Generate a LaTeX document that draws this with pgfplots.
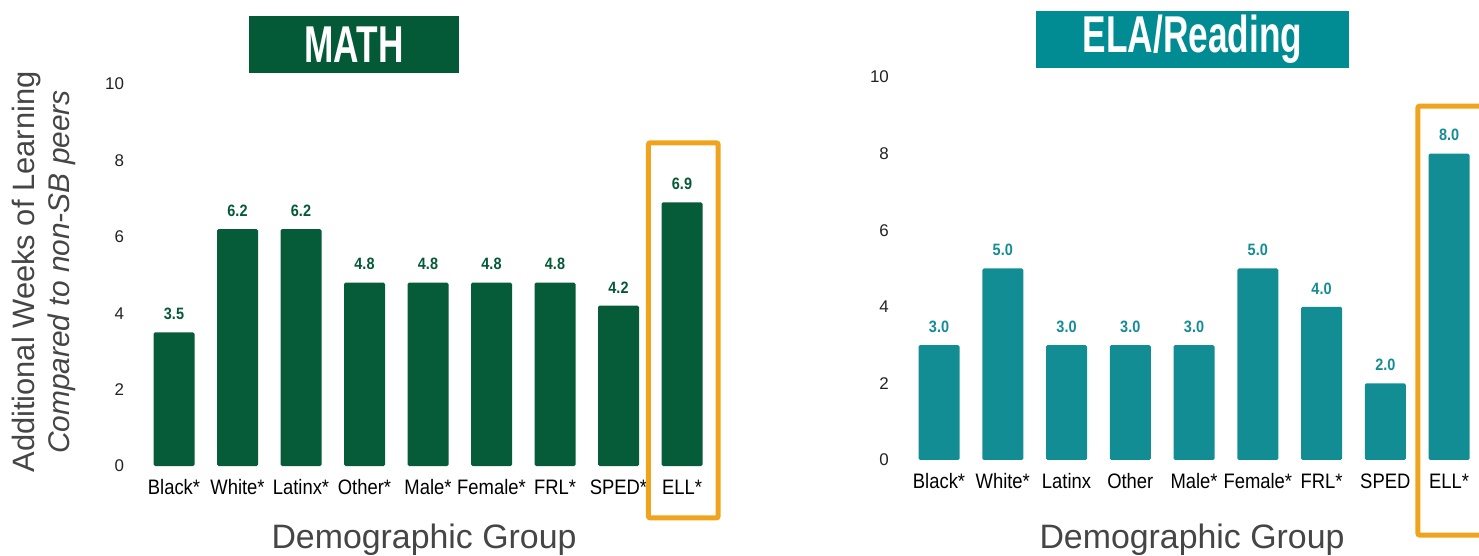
\documentclass[border=0pt]{standalone}
\usepackage{pgfplots}
\pgfplotsset{compat=1.18}
\usepackage{fontspec}
\setmainfont{Liberation Sans}
\newfontfamily\condfont[FakeStretch=0.88]{Liberation Sans}
\newfontfamily\titlefont[FakeStretch=0.68]{Liberation Sans}
\definecolor{mathgreen}{HTML}{045A36}
\definecolor{mathbar}{HTML}{065B38}
\definecolor{elateal}{HTML}{018C94}
\definecolor{elabar}{HTML}{138D94}
\definecolor{hiorange}{HTML}{F0A41E}
\definecolor{labgray}{HTML}{454545}
\definecolor{tickgray}{HTML}{222222}
\pgfplotsset{
  mybars/.style={
    scale only axis, clip=false,
    ymin=0, ymax=10, ytick={0,2,4,6,8,10},
    xtick={0,1,2,3,4,5,6,7,8},
    axis line style={draw=none}, major tick style={draw=none},
    ybar, bar width=41bp,
    /pgf/number format/assume math mode=true,
    yticklabel style={font=\fontsize{17}{17}\selectfont, text=tickgray, xshift=-2bp},
    xticklabel style={font=\condfont\fontsize{21}{21}\selectfont, text=black, yshift=-6bp},
    nodes near coords={\pgfmathprintnumber[fixed,fixed zerofill,precision=1]{\pgfplotspointmeta}},
    every node near coord/.append style={font=\condfont\bfseries\fontsize{16.5}{16.5}\selectfont, anchor=south, yshift=9bp},
  }
}
\begin{document}
\begin{tikzpicture}
\useasboundingbox (0bp,0bp) rectangle (1479bp,556bp);
% MATH
\begin{axis}[mybars, at={(129.55bp,90bp)}, anchor=south west,
  width=590.55bp, height=382bp, xmin=-0.7, xmax=8.6,
  xticklabels={Black*,White*,Latinx*,Other*,Male*,Female*,FRL*,SPED*,ELL*},
  every node near coord/.append style={text=mathgreen}]
\addplot[fill=mathbar, draw=none, rounded corners=1.5bp] coordinates {(0,3.5) (1,6.2) (2,6.2) (3,4.8) (4,4.8) (5,4.8) (6,4.8) (7,4.2) (8,6.9)};
\draw[hiorange, line width=5bp, rounded corners=2bp] (axis cs:7.47,-1.36) rectangle (axis cs:8.57,8.46);
\end{axis}
% ELA
\begin{axis}[mybars, at={(894.4bp,96bp)}, anchor=south west,
  width=584.6bp, height=383bp, xmin=-0.7, xmax=8.47,
  xticklabels={Black*,White*,Latinx,Other,Male*,Female*,FRL*,SPED,ELL*},
  every node near coord/.append style={text=elabar}]
\addplot[fill=elabar, draw=none, rounded corners=1.5bp] coordinates {(0,3.0) (1,5.0) (2,3.0) (3,3.0) (4,3.0) (5,5.0) (6,4.0) (7,2.0) (8,8.0)};
\draw[hiorange, line width=5bp, rounded corners=2bp] (axis cs:7.51,-1.96) rectangle (axis cs:8.7,9.24);
\end{axis}
% titles
\node[fill=mathgreen, minimum width=210bp, minimum height=57bp, inner sep=0pt, text=white, font=\titlefont\bfseries\fontsize{52}{52}\selectfont] at (354bp,511.5bp) {MATH};
\node[fill=elateal, minimum width=313bp, minimum height=57bp, inner sep=0pt, text=white, font=\titlefont\bfseries\fontsize{52}{52}\selectfont] at (1192.5bp,516.5bp) {ELA/Reading};
% axis titles
\node[rotate=90, text=labgray, font=\fontsize{31}{31}\selectfont] at (27bp,284bp) {Additional Weeks of Learning};
\node[rotate=90, text=labgray, font=\itshape\fontsize{30}{30}\selectfont] at (62bp,284bp) {Compared to non-SB peers};
\node[text=labgray, font=\fontsize{34}{34}\selectfont] at (424bp,16bp) {Demographic Group};
\node[text=labgray, font=\fontsize{34}{34}\selectfont] at (1192bp,16bp) {Demographic Group};
\end{tikzpicture}
\end{document}
